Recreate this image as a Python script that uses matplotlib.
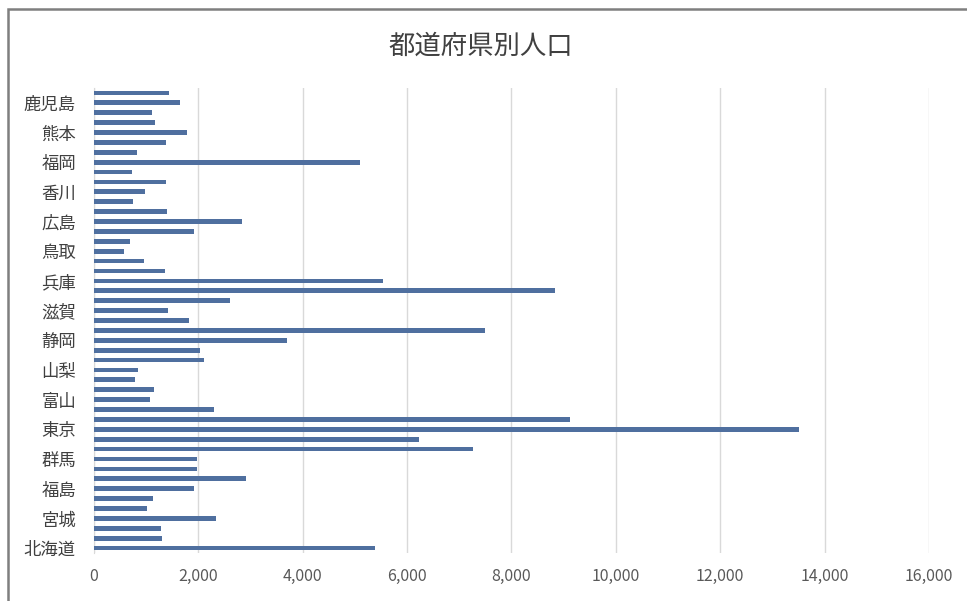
import numpy as np
import matplotlib
matplotlib.use("Agg")
import matplotlib.pyplot as plt
from matplotlib.patches import Rectangle

plt.rcParams['font.family'] = ['Noto Sans CJK JP', 'DejaVu Sans']

# 都道府県 (北から順), 人口 (千人)
prefs = ["北海道", "青森", "岩手", "宮城", "秋田", "山形", "福島", "茨城", "栃木", "群馬",
         "埼玉", "千葉", "東京", "神奈川", "新潟", "富山", "石川", "福井", "山梨", "長野",
         "岐阜", "静岡", "愛知", "三重", "滋賀", "京都", "大阪", "兵庫", "奈良", "和歌山",
         "鳥取", "島根", "岡山", "広島", "山口", "徳島", "香川", "愛媛", "高知", "福岡",
         "佐賀", "長崎", "熊本", "大分", "宮崎", "鹿児島", "沖縄"]
population = [5382, 1308, 1280, 2334, 1023, 1124, 1914, 2917, 1974, 1973,
              7267, 6223, 13515, 9126, 2304, 1066, 1154, 787, 835, 2099,
              2032, 3700, 7483, 1816, 1413, 2610, 8839, 5535, 1364, 964,
              573, 694, 1922, 2844, 1405, 756, 976, 1385, 728, 5102,
              833, 1377, 1786, 1166, 1104, 1648, 1434]
xticks = [0, 2000, 4000, 6000, 8000, 10000, 12000, 14000, 16000]

fig = plt.figure(figsize=(9.67, 6.01), dpi=100)
ax = fig.add_axes([0.0972, 0.0799, 0.8635, 0.7737])

ypos = np.arange(len(prefs))
ax.barh(ypos, population, height=0.48, color="#4f6f9f", zorder=3)

ax.set_ylim(-0.5, len(prefs) - 0.5)
ax.set_xlim(0, 16000)
ax.set_xticks(xticks)
ax.set_xticklabels([f"{v:,}" for v in xticks], fontsize=11.5, color="#595959")
ax.set_yticks(ypos[::3])
ax.set_yticklabels(prefs[::3], fontsize=12.5, color="#404040")
ax.tick_params(axis="both", length=0)
ax.tick_params(axis="y", pad=13)
ax.tick_params(axis="x", pad=11)

ax.grid(axis="x", color="#d9d9d9", linewidth=1, zorder=0)
for s in ["top", "right", "bottom"]:
    ax.spines[s].set_visible(False)
ax.spines["left"].set_color("#d9d9d9")

fig.text(0.497, 0.923, "都道府県別人口", ha="center", va="center",
         fontsize=19, color="#404040")

# chart frame
fig.patches.append(Rectangle((8 / 967, -0.1), 1.2, 1 - 9 / 601 + 0.1,
                             transform=fig.transFigure, fill=False,
                             edgecolor="#7f7f7f", linewidth=1.8))

fig.savefig("out.png", dpi=100)
